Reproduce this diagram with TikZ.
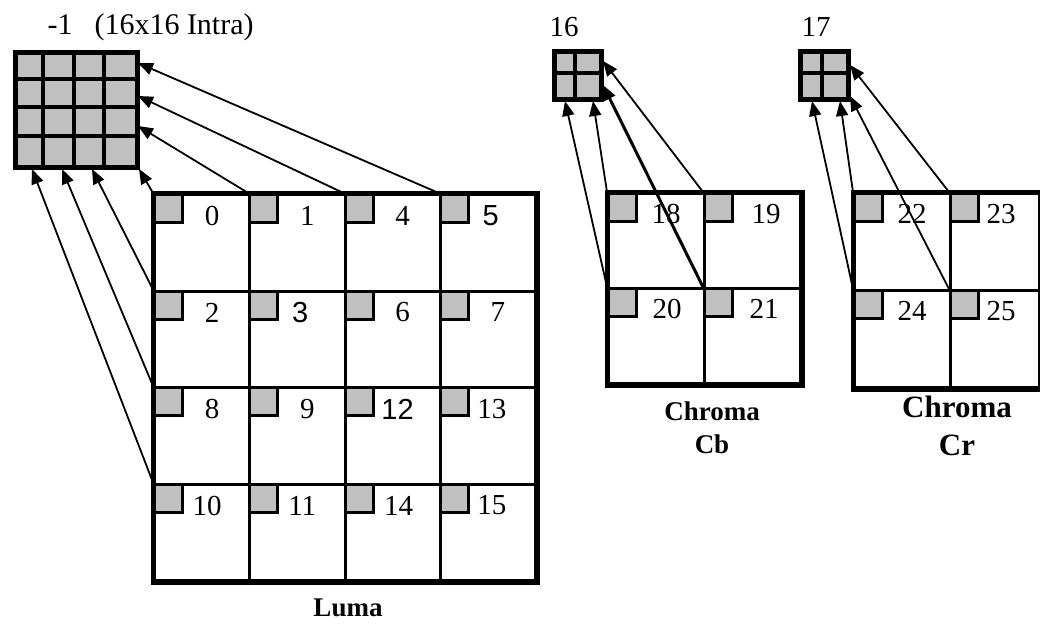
\documentclass[tikz,border=0pt]{standalone}
\usepackage{fontspec}
\setmainfont{Liberation Serif}
\newfontfamily\arialfont{Liberation Sans}
\usetikzlibrary{arrows.meta}
\definecolor{cellgray}{RGB}{192,192,192}
\newcommand{\serifnum}{\fontsize{29}{29}\selectfont}
\newcommand{\sansnum}{\arialfont\fontsize{29}{29}\selectfont}
\tikzset{
  cell/.style={draw, line width=3pt, fill=white, anchor=north west, inner sep=0pt, minimum width=95.25pt, minimum height=96.5pt},
  dcsq/.style={draw, line width=3pt, fill=cellgray, anchor=north west, inner sep=0pt, minimum size=28pt},
  dcblock/.style={draw, line width=5pt, fill=cellgray, anchor=north west, inner sep=0pt},
  gridline/.style={line width=4pt},
  thickframe/.style={draw, line width=5pt},
  pred/.style={-{Triangle[length=15pt,width=12pt]}, line width=1.8pt},
  capt/.style={font=\bfseries\fontsize{27}{33}\selectfont, align=center},
}
\begin{document}
\begin{tikzpicture}[x=1pt, y=-1pt]
    \useasboundingbox (0,0) rectangle (1040,623);
    % luma 4x4 blocks
    \foreach \n/\c/\r/\dx/\ff in {0/0/0/59/\serifnum, 1/1/0/59/\serifnum, 4/2/0/59/\serifnum, 5/3/0/52/\sansnum,
        2/0/1/59/\serifnum, 3/1/1/52/\sansnum, 6/2/1/59/\serifnum, 7/3/1/59/\serifnum,
        8/0/2/59/\serifnum, 9/1/2/59/\serifnum, 12/2/2/54/\sansnum, 13/3/2/53/\serifnum,
        10/0/3/54/\serifnum, 11/1/3/54/\serifnum, 14/2/3/55/\serifnum, 15/3/3/53/\serifnum}{
        \node[cell] (luma\n) at ({153+95.25*\c},{193+96.5*\r}) {};
        \node[dcsq] (lsq\n) at (luma\n.north west) {};
        \node[font=\ff] (lnum\n) at ({153+95.25*\c+\dx},{193+96.5*\r+23}) {\n};
    }
    \draw[thickframe] (luma0.north west) rectangle (luma15.south east);
    % chroma Cb
    \foreach \n/\x/\y/\dx in {18/607/192/59, 19/703/192/63, 20/607/287/60, 21/703/287/61}{
        \node[cell, minimum width=96pt, minimum height=95pt] (cb\n) at (\x,\y) {};
        \node[dcsq] (bsq\n) at (cb\n.north west) {};
        \node[font=\serifnum] (bnum\n) at ({\x+\dx},{\y+22}) {\n};
    }
    \draw[thickframe] (cb18.north west) rectangle (cb21.south east);
    % chroma Cr
    \foreach \n/\x/\y/\w/\dx in {22/853/192/96/59, 23/949/192/89/52, 24/853/289/96/59, 25/949/289/89/52}{
        \node[cell, minimum width=\w pt, minimum height=97pt] (cr\n) at (\x,\y) {};
        \node[dcsq] (rsq\n) at (cr\n.north west) {};
        \node[font=\serifnum] (rnum\n) at ({\x+\dx},{\y+22}) {\n};
    }
    \draw[thickframe] (cr22.north west) rectangle (cr25.south east);
    % DC blocks
    \node[dcblock, minimum width=122pt, minimum height=114pt] (dcY) at (12.5,50.5) {};
    \foreach \k in {1,2,3}{
        \draw[gridline] ({12.5+30.5*\k},50.5) -- ({12.5+30.5*\k},164.5);
        \draw[gridline] (12.5,{50.5+28.5*\k}) -- (134.5,{50.5+28.5*\k});
    }
    \node[dcblock, minimum width=47pt, minimum height=48pt] (dcB) at (551.5,49.5) {};
    \draw[gridline] (575,49.5) -- (575,97.5);
    \draw[gridline] (551.5,73.5) -- (598.5,73.5);
    \node[dcblock, minimum width=48pt, minimum height=48pt] (dcR) at (797.5,49.5) {};
    \draw[gridline] (821.5,49.5) -- (821.5,97.5);
    \draw[gridline] (797.5,73.5) -- (845.5,73.5);
    % labels
    \node[font=\fontsize{30}{30}\selectfont, anchor=west] (title) at (44,27) {-1\hspace{22pt}(16x16 Intra)};
    \node[font=\serifnum] (labB) at (564,27) {16};
    \node[font=\serifnum] (labR) at (816,27) {17};
    \node[capt] (lumacap) at (348,608) {Luma};
    \node[capt] (cbcap) at (712,428) {Chroma\\Cb};
    \node[capt, font=\bfseries\fontsize{31}{38}\selectfont] (crcap) at (957,426) {Chroma\\Cr};
    % arrow ends
    \coordinate (yin0) at (139,169);
    \coordinate (yin2) at (92,169);
    \coordinate (yin8) at (62,169);
    \coordinate (yin10) at (32,169);
    \coordinate (yin1) at (138,126);
    \coordinate (yin4) at (138,96);
    \coordinate (yin5) at (138,63);
    \coordinate (bin20) at (565,101);
    \coordinate (bin18) at (593,101);
    \coordinate (bin21) at (603,85);
    \coordinate (bin19) at (603,61);
    \coordinate (rin24) at (812,101);
    \coordinate (rin22) at (840,101);
    \coordinate (rin25) at (850,96);
    \coordinate (rin23) at (850,65);
    % arrows
    \foreach \n in {0,2,8,10,1,4,5}{
        \draw[pred] (luma\n.north west) -- (yin\n);
    }
    \foreach \n in {20,18,19}{
        \draw[pred] (cb\n.north west) -- (bin\n);
    }
    \draw[pred, line width=3pt] (cb21.north west) -- (bin21);
    \foreach \n in {24,22,25,23}{
        \draw[pred] (cr\n.north west) -- (rin\n);
    }
\end{tikzpicture}
\end{document}
